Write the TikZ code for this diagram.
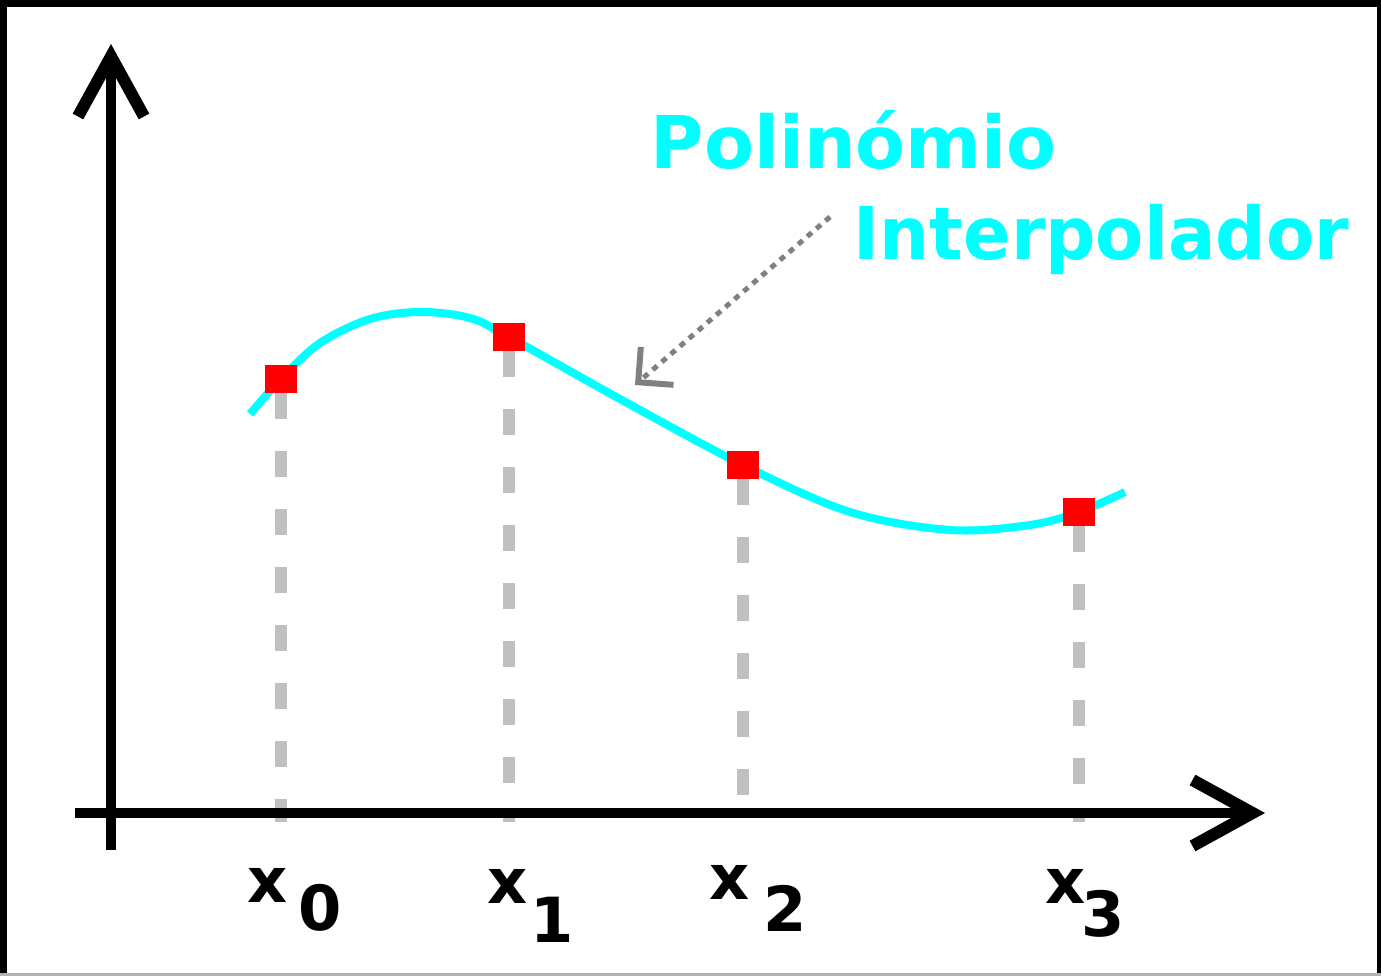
\documentclass[tikz,border=0pt]{standalone}
\usepackage{fontspec}
\setmainfont{DejaVu Sans}
\usepackage{xcolor}
\usetikzlibrary{arrows.meta, positioning, calc}
\definecolor{polycyan}{RGB}{0,255,255}
\definecolor{knotred}{RGB}{255,0,0}
\definecolor{guidegray}{RGB}{192,192,192}
\definecolor{pointgray}{RGB}{128,128,128}

\begin{document}
\begin{tikzpicture}[x=0.01cm, y=-0.01cm,
  axis/.style={line width=0.1cm, -{Straight Barb[length=0.6cm, width=0.66cm, line width=0.12cm]}},
  poly/.style={draw=polycyan, line width=0.08cm},
  knot/.style={fill=knotred, minimum width=0.32cm, minimum height=0.27cm, inner sep=0pt},
  guide/.style={draw=guidegray, line width=0.12cm, dash pattern=on 0.26cm off 0.32cm},
  pointer/.style={draw=pointgray, line width=0.05cm, dash pattern=on 0.06cm off 0.06cm,
                  -{Straight Barb[length=0.25cm, width=0.5cm, line width=0.06cm]}},
  title/.style={font=\fontsize{20.7}{24}\selectfont\bfseries, text=polycyan,
                inner sep=0pt, anchor=base west},
  lbl/.style={font=\fontsize{17.7}{20}\selectfont\bfseries, inner sep=0pt, anchor=base west}]
  \useasboundingbox (0,0) rectangle (1381,976);
  \fill[white] (0,0) rectangle (1381,976);
  % frame
  \fill[black] (0,0) rectangle (7,976);
  \fill[black] (0,0) rectangle (1381,7);
  \fill[black] (1377,0) rectangle (1381,976);
  \fill[black!30] (0,973) rectangle (1381,976);
  % knots
  \node[knot] (p0) at (281,379) {};
  \node[knot] (p1) at (509,337) {};
  \node[knot] (p2) at (743,465) {};
  \node[knot] (p3) at (1079,512) {};
  \coordinate (foot) at (0,822);
  \draw[guide] (p0.south) -- (p0 |- foot);
  \draw[guide] (p1.south) -- (p1 |- foot);
  \draw[guide] (p2.south) -- (p2 |- foot);
  \draw[guide] (p3.south) -- (p3 |- foot);
  % interpolating curve
  \draw[poly] plot[smooth, tension=0.55] coordinates {(250,414) (281,379) (320,343)
    (370,319) (420,312) (470,318) (509,337) (620,399) (743,465) (850,512) (950,530)
    (1030,525) (1079,512) (1125,492)};
  \node[knot] at (p0) {};
  \node[knot] at (p1) {};
  \node[knot] at (p2) {};
  \node[knot] at (p3) {};
  % axes
  \coordinate (ybot) at (111,850);
  \coordinate (ytop) at (111,44);
  \coordinate (xleft) at (75,813);
  \coordinate (xright) at (1265,813);
  \draw[axis] (ybot) -- (ytop);
  \draw[axis] (xleft) -- (xright);
  % abscissae
  \node[lbl] (l0) at (247,902) {x\hspace{0.11cm}\raisebox{-0.28cm}{0}};
  \node[lbl] (l1) at (487,903) {x\hspace{0.03cm}\raisebox{-0.39cm}{1}};
  \node[lbl] (l2) at (709,899) {x\hspace{0.14cm}\raisebox{-0.32cm}{2}};
  \node[lbl] (l3) at (1045,903) {x\hspace{-0.04cm}\raisebox{-0.33cm}{3}};
  % title and pointer
  \node[title] (polin) at (650,169) {Polinómio};
  \node[title] (interp) at (853,260) {\scalebox{0.965}[1]{Interpolador}};
  \coordinate (tgt) at (635,385);
  \draw[pointer] ([shift={(-23,-23)}]interp.west) -- (tgt);
\end{tikzpicture}
\end{document}
